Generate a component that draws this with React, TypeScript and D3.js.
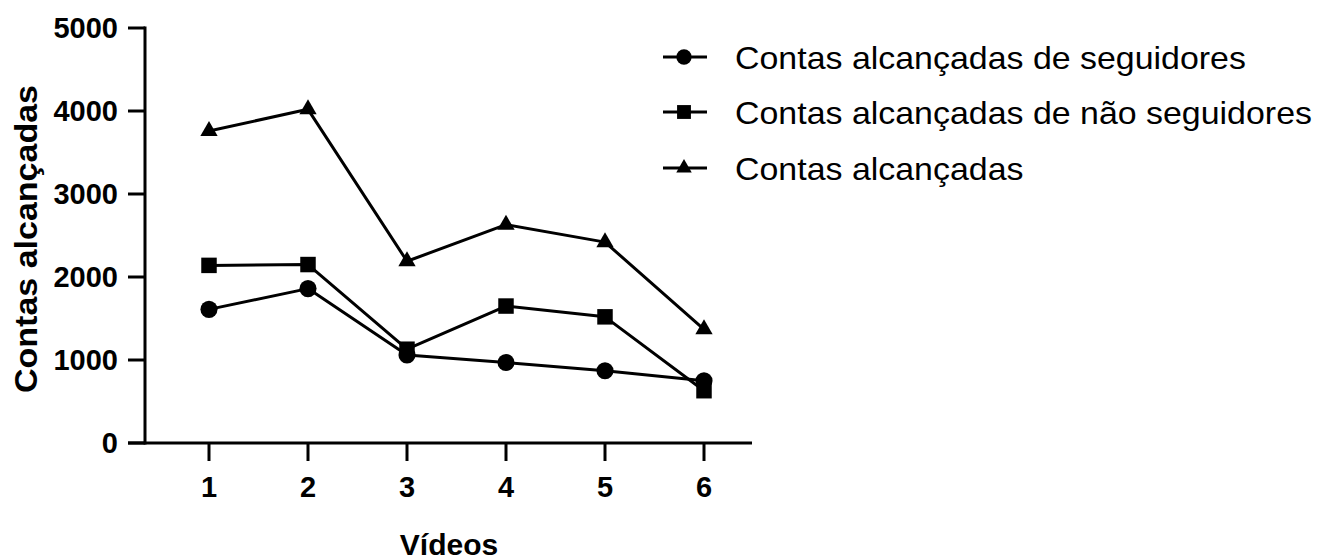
import React from "react";
import * as d3 from "d3";

const videos = [1, 2, 3, 4, 5, 6];
const seguidores = [1610, 1860, 1060, 970, 870, 750];
const naoSeguidores = [2140, 2150, 1130, 1650, 1520, 630];
const alcancadas = [3760, 4020, 2190, 2630, 2420, 1370];
const yTicks = [0, 1000, 2000, 3000, 4000, 5000];
const seriesNames = [
  "Contas alcançadas de seguidores",
  "Contas alcançadas de não seguidores",
  "Contas alcançadas",
];
const seriesValues = [seguidores, naoSeguidores, alcancadas];
const seriesShapes = [d3.symbolCircle, d3.symbolSquare, d3.symbolTriangle];
const shapeSizes = [230, 240, 130];

const W = 1318;
const H = 560;
const FONT = "Liberation Sans, Arial, Helvetica, sans-serif";

export default function App() {
  const x = d3.scaleLinear().domain([1, 6]).range([209, 704]);
  const y = d3.scaleLinear().domain([0, 5000]).range([443, 28]);
  const axisLeft = 145;
  const axisRight = 752;
  const line = d3
    .line<number>()
    .x((_, i) => x(videos[i]))
    .y((v) => y(v));

  const legendY = [57, 112, 168];

  return (
    <svg width={W} height={H} style={{ position: "absolute", left: 0, top: 0, background: "#fff" }}>
      <rect width={W} height={H} fill="#fff" />
      {/* Y axis */}
      <line x1={axisLeft} x2={axisLeft} y1={y(5000) - 1.5} y2={y(0) + 1.5} stroke="#000" strokeWidth={3} />
      {yTicks.map((t) => (
        <g key={t}>
          <line x1={axisLeft - 17} x2={axisLeft} y1={y(t)} y2={y(t)} stroke="#000" strokeWidth={3} />
          <text
            x={axisLeft - 27}
            y={y(t)}
            dy="0.36em"
            textAnchor="end"
            fontFamily={FONT}
            fontWeight="bold"
            fontSize={29}
            fill="#000"
          >
            {t}
          </text>
        </g>
      ))}
      {/* X axis */}
      <line x1={axisLeft - 17} x2={axisRight} y1={y(0)} y2={y(0)} stroke="#000" strokeWidth={3} />
      {videos.map((v) => (
        <g key={v}>
          <line x1={x(v)} x2={x(v)} y1={y(0)} y2={y(0) + 18} stroke="#000" strokeWidth={3} />
          <text
            x={x(v)}
            y={y(0) + 54}
            textAnchor="middle"
            fontFamily={FONT}
            fontWeight="bold"
            fontSize={29}
            fill="#000"
          >
            {v}
          </text>
        </g>
      ))}
      <text
        x={449}
        y={555}
        textAnchor="middle"
        fontFamily={FONT}
        fontWeight="bold"
        fontSize={30}
        fill="#000"
      >
        Vídeos
      </text>
      <text
        transform={`translate(37, 239) rotate(-90)`}
        textAnchor="middle"
        fontFamily={FONT}
        fontWeight="bold"
        fontSize={31}
        textLength={308}
        lengthAdjust="spacingAndGlyphs"
        fill="#000"
      >
        Contas alcançadas
      </text>
      {/* Series */}
      {seriesValues.map((vals, si) => (
        <g key={si}>
          <path d={line(vals) || ""} fill="none" stroke="#000" strokeWidth={3} strokeLinejoin="round" />
          {vals.map((v, i) => (
            <path
              key={i}
              d={d3.symbol(seriesShapes[si], shapeSizes[si])() || ""}
              transform={`translate(${x(videos[i])},${y(v)})`}
              fill="#000"
            />
          ))}
        </g>
      ))}
      {/* Legend */}
      {seriesNames.map((name, si) => (
        <g key={name} transform={`translate(0, ${legendY[si]})`}>
          <line x1={663} x2={707} y1={0} y2={0} stroke="#000" strokeWidth={3} />
          <path
            d={d3.symbol(seriesShapes[si], shapeSizes[si] * 0.8)() || ""}
            transform="translate(684,0)"
            fill="#000"
          />
          <text
            transform="translate(735,0) scale(1.06,1)"
            x={0}
            y={0}
            dy="0.36em"
            fontFamily={FONT}
            fontSize={32}
            fill="#000"
          >
            {name}
          </text>
        </g>
      ))}
    </svg>
  );
}
